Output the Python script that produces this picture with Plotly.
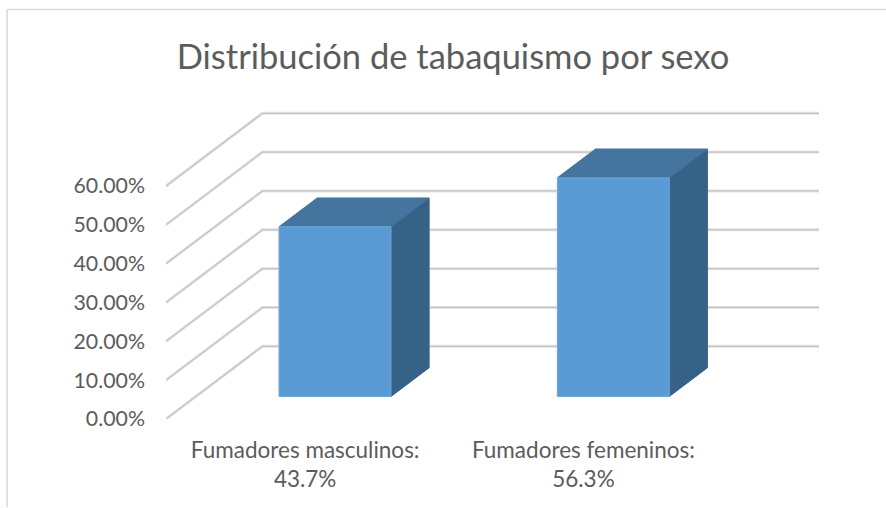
import plotly.graph_objects as go

categories = ["Fumadores masculinos:<br>43.7%", "Fumadores femeninos:<br>56.3%"]
values = [43.7, 56.3]
axis_ticks = [0, 10, 20, 30, 40, 50, 60]
title = "Distribución de tabaquismo por sexo"

W, H = 886, 508
L, R, T, B = 165.5, 840, 90, 419.5      # plot area in pixels
PX_PER_CAT = 278.5
PX_PER_PCT = 3.89
DEPTH_X = 96.5 / PX_PER_CAT             # wall offset in category units
DEPTH_Y = 72.8 / PX_PER_PCT             # wall offset in value units
BAR_T0, BAR_T1 = 0.31, 0.705            # bar front/back along depth
BAR_W = 0.402                           # bar width in category units

FRONT, TOP, SIDE = "#5b9bd5", "#44759f", "#376287"
TEXT = "#5c5c5c"
FONT = "Lato, Carlito, Calibri, sans-serif"


def proj(cx, v, t):
    return cx + DEPTH_X * t, v + DEPTH_Y * t


fig = go.Figure()


def grid_trace(color, width):
    xs, ys = [], []
    for v in axis_ticks:
        for cx, t in [(0, 0), (0, 1), (2, 1)]:
            x, y = proj(cx, v, t)
            xs.append(x)
            ys.append(y)
        xs.append(None)
        ys.append(None)
    return go.Scatter(x=xs, y=ys, mode="lines", cliponaxis=False, hoverinfo="skip",
                      line=dict(color=color, width=width, shape="linear"), showlegend=False)


fig.add_trace(grid_trace("#e4e4e4", 3))
fig.add_trace(grid_trace("#c4c4c4", 1.25))


def poly(points, color, edge):
    xs = [p[0] for p in points] + [points[0][0]]
    ys = [p[1] for p in points] + [points[0][1]]
    return go.Scatter(x=xs, y=ys, mode="lines", fill="toself", fillcolor=color,
                      line=dict(color=edge, width=1), hoverinfo="skip", showlegend=False)


for i, v in enumerate(values):
    x0, x1 = i + 0.5 - BAR_W / 2, i + 0.5 + BAR_W / 2
    # halo behind the bar
    fig.add_trace(poly([proj(x0, 0, BAR_T0), proj(x1, 0, BAR_T0), proj(x1, 0, BAR_T1),
                        proj(x1, v, BAR_T1), proj(x0, v, BAR_T1), proj(x0, v, BAR_T0)],
                       SIDE, "#d5d9de"))
    fig.add_trace(poly([proj(x1, 0, BAR_T0), proj(x1, 0, BAR_T1), proj(x1, v, BAR_T1), proj(x1, v, BAR_T0)],
                       SIDE, SIDE))
    fig.add_trace(poly([proj(x0, v, BAR_T0), proj(x1, v, BAR_T0), proj(x1, v, BAR_T1), proj(x0, v, BAR_T1)],
                       TOP, TOP))
    fig.add_trace(poly([proj(x0, 0, BAR_T0), proj(x1, 0, BAR_T0), proj(x1, v, BAR_T0), proj(x0, v, BAR_T0)],
                       FRONT, "#6fa6da"))

fig.update_layout(
    width=W, height=H, autosize=False,
    margin=dict(l=L, r=W - R, t=T, b=H - B, pad=0),
    paper_bgcolor="white", plot_bgcolor="white", showlegend=False,
    font=dict(family=FONT, color=TEXT),
    title=dict(text=title, x=453 / W, xanchor="center", xref="container",
               y=1 - 57 / H, yanchor="middle", font=dict(family=FONT, size=34.5, color=TEXT)),
    xaxis=dict(range=[0, (R - L) / PX_PER_CAT], tickmode="array", tickvals=[0.5, 1.5],
               ticktext=categories, showgrid=False, zeroline=False, showline=False, ticks="",
               ticklabelstandoff=15, tickfont=dict(family=FONT, size=22.5, color=TEXT), tickangle=0),
    yaxis=dict(range=[0, (B - T) / PX_PER_PCT], tickmode="array", tickvals=axis_ticks,
               ticktext=[f"{t:.2f}%" for t in axis_ticks], showgrid=False, zeroline=False, showline=False,
               ticks="", ticklabelstandoff=20, tickfont=dict(family=FONT, size=21.3, color=TEXT)),
    shapes=[
        dict(type="line", xref="paper", yref="paper", x0=(6.5 - L) / (R - L), x1=(W - L) / (R - L),
             y0=(B - 9.5) / (B - T), y1=(B - 9.5) / (B - T), line=dict(color="#d9d9d9", width=1.5)),
        dict(type="line", xref="paper", yref="paper", x0=(6.5 - L) / (R - L), x1=(6.5 - L) / (R - L),
             y0=(B - 9.5) / (B - T), y1=(B - H) / (B - T), line=dict(color="#d9d9d9", width=1.5)),
    ],
)

fig.write_html("out.html", config=dict(displayModeBar=False),
               post_script="document.body.style.margin='0';document.documentElement.style.overflow='hidden';")
